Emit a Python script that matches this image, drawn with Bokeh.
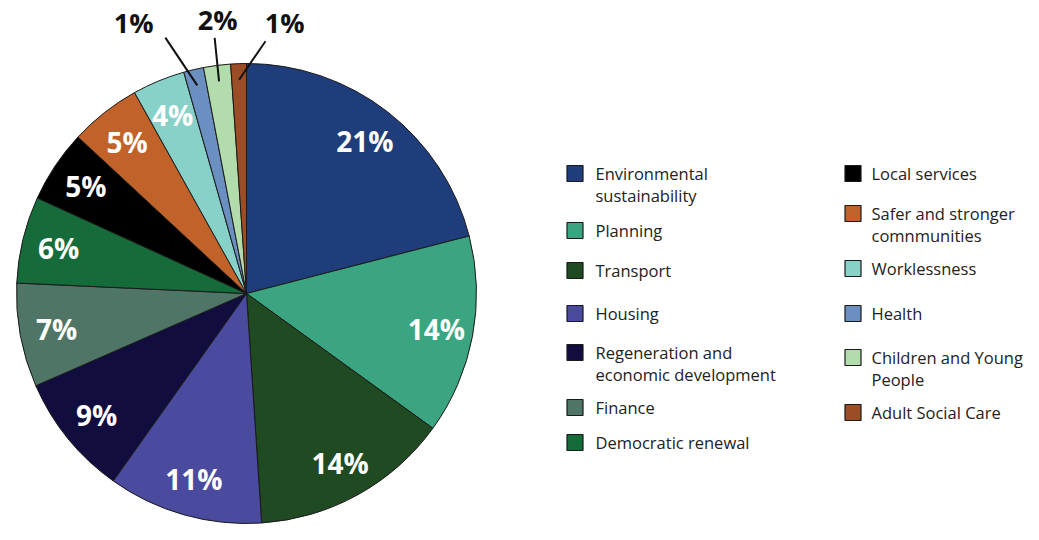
import math
from bokeh.plotting import figure
from bokeh.models import ColumnDataSource, Range1d
from bokeh.core.properties import value
from bokeh.embed import file_html
from bokeh.resources import INLINE

# ---------------- data ----------------
categories = [
    "Environmental sustainability", "Planning", "Transport", "Housing",
    "Regeneration and economic development", "Finance", "Democratic renewal",
    "Local services", "Safer and stronger comnmunities", "Worklessness",
    "Health", "Children and Young People", "Adult Social Care",
]
shares = [21.0, 14.0, 14.0, 10.9, 8.6, 7.3, 6.1, 5.1, 5.0, 3.7, 1.4, 1.9, 1.1]
pct_labels = ["21%", "14%", "14%", "11%", "9%", "7%", "6%", "5%", "5%", "4%", "1%", "2%", "1%"]
legend_text = [
    ["Environmental", "sustainability"], ["Planning"], ["Transport"], ["Housing"],
    ["Regeneration and", "economic development"], ["Finance"], ["Democratic renewal"],
    ["Local services"], ["Safer and stronger", "comnmunities"], ["Worklessness"],
    ["Health"], ["Children and Young", "People"], ["Adult Social Care"],
]

# ---------------- styles / layout ----------------
colors = ["#1f3d7a", "#3aa580", "#1f4a22", "#4a4a9e", "#110d3f", "#4e7565", "#166b3a",
          "#000000", "#c0622a", "#88d1c8", "#6a8fc0", "#b3dcac", "#9b4e25"]
W, H = 1023, 524
CXp, CYp, R = 246, 293, 230           # pie centre in pixels from top-left
CX, CY = CXp, H - CYp
inner_ratio = 0.84
# callouts for tiny slices: (line start ratio, line end angle, line end ratio, text angle, text ratio)
callouts = {10: (0.93, 342.4, 1.167, 337.4, 1.277),
            11: (0.93, 352.9, 1.12, 354.0, 1.20),
            12: (0.93, 4.3, 1.10, 8.0, 1.19)}
# legend layout in pixels from top-left
legend_col_x = [566] * 7 + [844] * 6
legend_text_x = [595] * 7 + [871] * 6
legend_y = [173, 230, 270, 313, 352, 407, 442, 173, 213, 268, 313, 357, 412]
line_gap = 22


def px(x, y):
    return x, H - y


def polar(theta_deg, r):
    t = math.radians(theta_deg)
    return CX + r * math.sin(t), CY + r * math.cos(t)


p = figure(width=W, height=H, output_backend="svg", toolbar_location=None,
           x_range=Range1d(0, W), y_range=Range1d(0, H), min_border=0)
p.axis.visible = False
p.grid.visible = False
p.outline_line_color = None
p.background_fill_color = "white"

total = sum(shares)
starts, ends, mids = [], [], []
acc = 0.0
for s in shares:
    a0 = acc / total * 360.0
    acc += s
    a1 = acc / total * 360.0
    starts.append(math.pi / 2 - math.radians(a0))
    ends.append(math.pi / 2 - math.radians(a1))
    mids.append((a0 + a1) / 2)

src = ColumnDataSource(dict(start=starts, end=ends, color=colors, cat=categories))
p.wedge(x=CX, y=CY, radius=R, start_angle="start", end_angle="end", direction="clock",
        fill_color="color", line_color="#1a1a1a", line_width=1, source=src)

# inner labels
lx, ly, lt = [], [], []
for i, lab in enumerate(pct_labels):
    if i in callouts:
        continue
    x, y = polar(mids[i], R * inner_ratio)
    lx.append(x); ly.append(y); lt.append(lab)
p.text(x=lx, y=ly, text=lt, text_color="white", text_font=value("Open Sans"),
       text_font_style="bold", text_font_size="28px", text_align="center",
       text_baseline="middle")

# callouts
ox, oy, ot = [], [], []
for i, (r0, ae, re, at, rt) in callouts.items():
    x0, y0 = polar(mids[i], R * r0)
    x1, y1 = polar(ae, R * re)
    p.line([x0, x1], [y0, y1], line_color="#111111", line_width=2)
    tx, ty = polar(at, R * rt)
    ox.append(tx); oy.append(ty); ot.append(pct_labels[i])
p.text(x=ox, y=oy, text=ot, text_color="#111111", text_font=value("Open Sans"),
       text_font_style="bold", text_font_size="27px", text_align="center",
       text_baseline="middle")

# legend
sq_x, sq_y, tx_, ty_, tt = [], [], [], [], []
for i in range(len(categories)):
    x, y = px(legend_col_x[i] + 8.5, legend_y[i])
    sq_x.append(x); sq_y.append(y)
    for j, line in enumerate(legend_text[i]):
        x2, y2 = px(legend_text_x[i], legend_y[i] + j * line_gap)
        tx_.append(x2); ty_.append(y2); tt.append(line)
p.rect(x=sq_x, y=sq_y, width=16, height=16, fill_color=colors, line_color="#1a1a1a",
       line_width=1.2)
p.text(x=tx_, y=ty_, text=tt, text_color="#222222", text_font=value("Open Sans"),
       text_font_size="16.5px", text_align="left", text_baseline="middle")

open("out.html", "w").write(file_html(p, INLINE))
